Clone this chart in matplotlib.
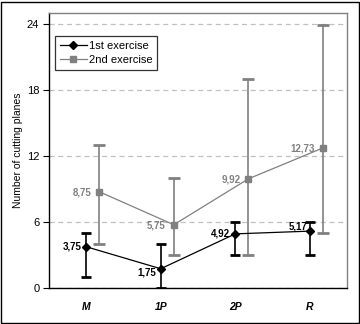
import matplotlib
matplotlib.use("Agg")
import matplotlib.pyplot as plt
from matplotlib.patches import Rectangle
from matplotlib.lines import Line2D

plt.rcParams['font.family'] = ['Liberation Sans', 'DejaVu Sans']

categories = ["M", "1P", "2P", "R"]
ex1_mean = [3.75, 1.75, 4.92, 5.17]
ex1_low = [1, 0, 3, 3]
ex1_high = [5, 4, 6, 6]
ex2_mean = [8.75, 5.75, 9.92, 12.73]
ex2_low = [4, 3, 3, 5]
ex2_high = [13, 10, 19, 23.9]
y_ticks = [0, 6, 12, 18, 24]

fig = plt.figure(figsize=(3.6, 3.24), dpi=100)
ax = fig.add_axes([49/360, 1 - 288/324, 298/360, 275/324])

x1 = list(range(len(categories)))
x2 = [v + 0.175 for v in x1]

gray = "#808080"
err2 = [[m - lo for m, lo in zip(ex2_mean, ex2_low)], [hi - m for m, hi in zip(ex2_mean, ex2_high)]]
err1 = [[m - lo for m, lo in zip(ex1_mean, ex1_low)], [hi - m for m, hi in zip(ex1_mean, ex1_high)]]

ax.errorbar(x2, ex2_mean, yerr=err2, color=gray, marker='s', markersize=4.5,
            linewidth=0.9, elinewidth=1.2, capsize=4.5, capthick=2, zorder=2)
ax.errorbar(x1, ex1_mean, yerr=err1, color='black', marker='D', markersize=4.5,
            linewidth=0.9, elinewidth=1.2, capsize=3.8, capthick=2, zorder=3)

fmt = lambda v: f"{v:.2f}".replace(".", ",")
off1 = [(-5, 0), (-5, -4), (-5, 0), (-2, 5)]
for x, v, (dx, dy) in zip(x1, ex1_mean, off1):
    ax.annotate(fmt(v), (x, v), xytext=(dx, dy), textcoords='offset pixels',
                ha='right', va='center', fontsize=7, fontweight='bold', color='black')
off2 = [(-8, -1), (-8, -1), (-8, -1), (-8, -1)]
for x, v, (dx, dy) in zip(x2, ex2_mean, off2):
    ax.annotate(fmt(v), (x, v), xytext=(dx, dy), textcoords='offset pixels',
                ha='right', va='center', fontsize=7, fontweight='bold', color=gray)

ax.set_xlim(-0.5, 3.5)
ax.set_ylim(0, 25)
ax.set_yticks(y_ticks)
ax.set_xticks(x1)
ax.set_xticklabels(categories, fontweight='bold', fontstyle='italic')
ax.tick_params(axis='x', length=0, pad=10, labelsize=7.5)
ax.tick_params(axis='y', length=4, width=0.8, labelsize=8, pad=3)
ax.yaxis.grid(True, linestyle=(0, (4, 3)), color='#c0c0c0', linewidth=0.9)
ax.set_axisbelow(True)
for s in ['left', 'bottom']:
    ax.spines[s].set_color('black')
    ax.spines[s].set_linewidth(1.0)
for s in ['top', 'right']:
    ax.spines[s].set_color(gray)
    ax.spines[s].set_linewidth(1.0)
ax.set_ylabel("Number of cutting planes", fontsize=7.5, labelpad=3)

handles = [
    Line2D([], [], color='black', marker='D', markersize=4, linewidth=0.9),
    Line2D([], [], color=gray, marker='s', markersize=4.5, linewidth=0.9),
]
leg = ax.legend(handles, ["1st exercise", "2nd exercise"], loc='upper left',
                bbox_to_anchor=(0.02, 0.915), fontsize=8, frameon=True, fancybox=False,
                edgecolor='black', handlelength=2.4, handletextpad=0.2, borderpad=0.45,
                labelspacing=0.3, borderaxespad=0)
leg.get_frame().set_linewidth(0.9)

fig.patches.append(Rectangle((0.5/360, 1.5/324), 358/360, 321/324, transform=fig.transFigure,
                             fill=False, edgecolor='black', linewidth=1.0))

fig.savefig("out.png", dpi=100)
